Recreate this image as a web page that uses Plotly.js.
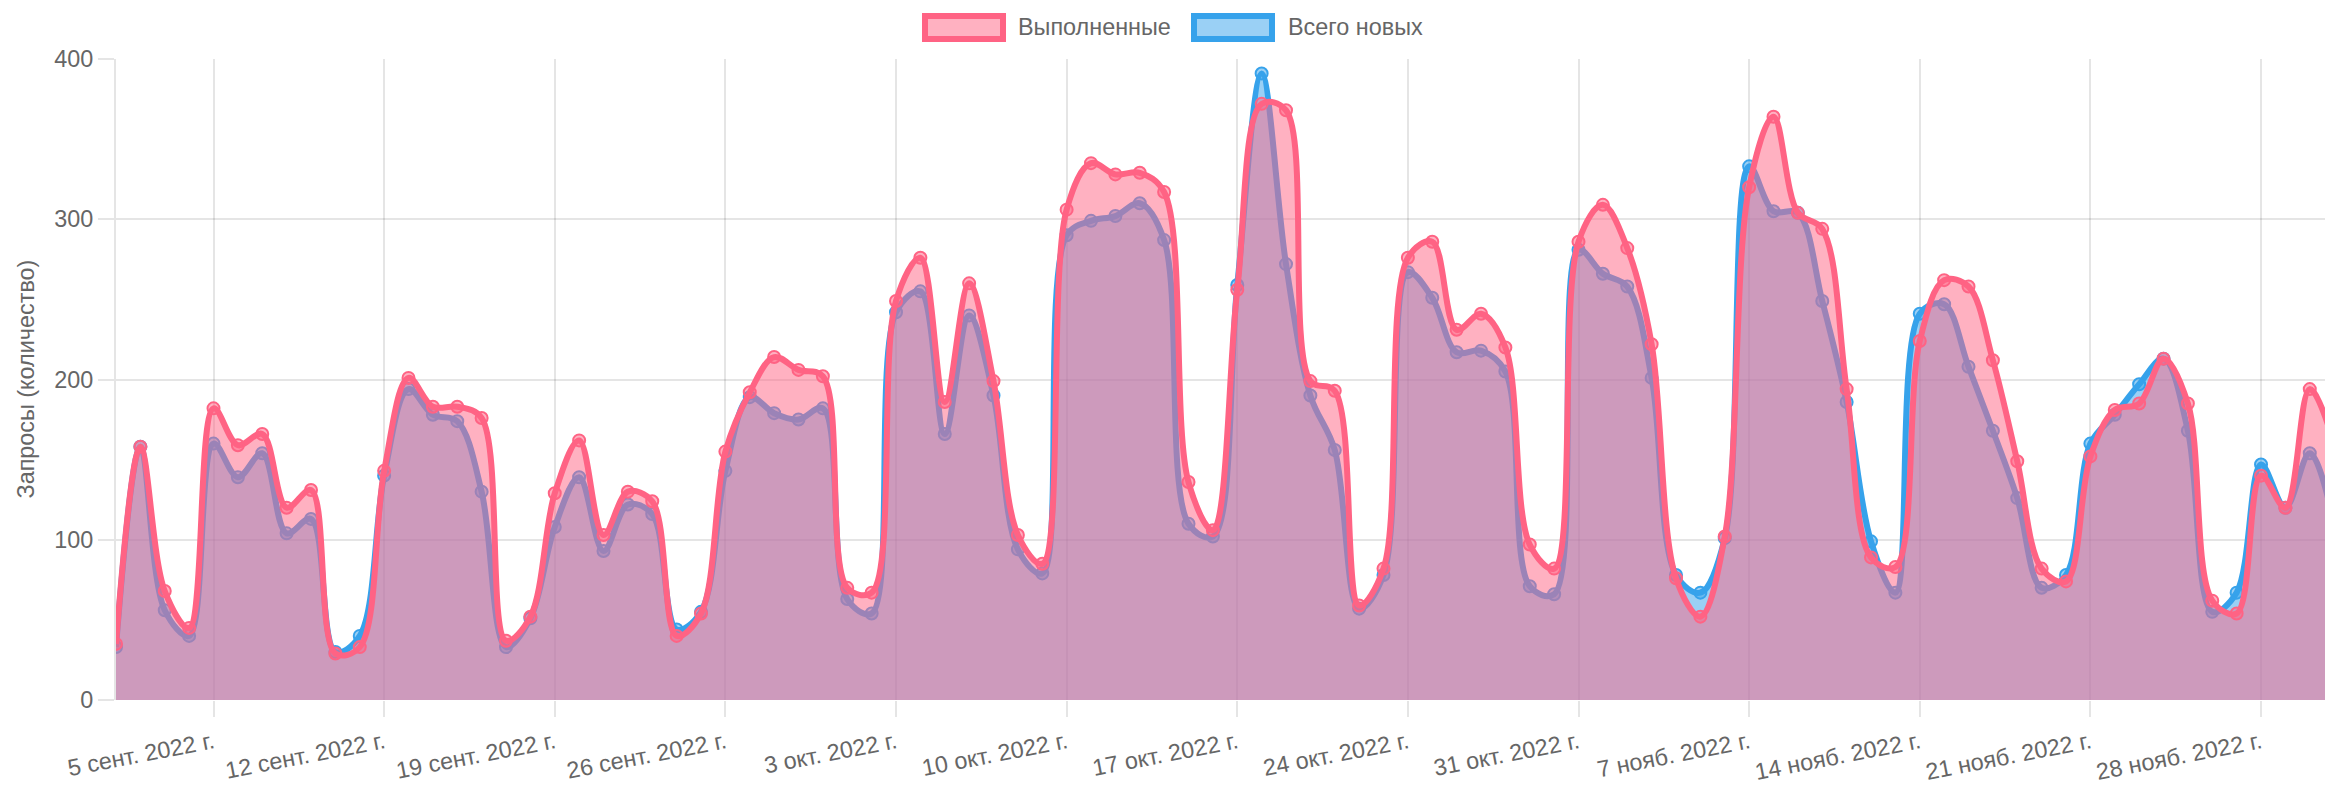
<!DOCTYPE html>
<html>
<head>
<meta charset="utf-8">
<script src="https://cdn.plot.ly/plotly-3.0.1.min.js"></script>
<style>
  html, body { margin: 0; padding: 0; background: #fff; }
  #chart { width: 2325px; height: 785px; }
</style>
</head>
<body>
<div id="chart"></div>
<script>
// ---- data ----
var startDate = '2022-09-01';
var completed = [35,158,68,45,182,159,166,120,131,29,33,143,201,183,183,176,37,52,129,162,103,130,124,40,54,155,192,214,206,202,70,67,249,276,186,260,199,103,85,306,335,328,329,317,136,106,256,372,368,199,193,59,82,276,286,231,241,220,97,82,286,309,282,222,76,52,102,320,364,304,294,194,89,83,224,262,258,212,149,82,74,152,181,185,213,185,62,54,140,120,194,160];
var totalNew  = [33,158,56,40,160,139,154,104,113,30,40,140,194,178,174,130,33,51,108,139,93,122,116,44,55,143,189,179,175,182,63,54,242,255,166,240,190,94,79,290,299,302,310,287,110,102,259,391,272,190,156,57,78,267,251,217,218,205,71,66,281,266,258,201,78,67,101,333,305,304,249,186,99,67,241,247,208,168,126,70,78,160,178,197,213,168,55,67,147,120,154,110];
var tickDates = ['2022-09-05','2022-09-12','2022-09-19','2022-09-26','2022-10-03','2022-10-10','2022-10-17','2022-10-24','2022-10-31','2022-11-07','2022-11-14','2022-11-21','2022-11-28'];
var tickLabels = ['5 сент. 2022 г.','12 сент. 2022 г.','19 сент. 2022 г.','26 сент. 2022 г.','3 окт. 2022 г.','10 окт. 2022 г.','17 окт. 2022 г.','24 окт. 2022 г.','31 окт. 2022 г.','7 нояб. 2022 г.','14 нояб. 2022 г.','21 нояб. 2022 г.','28 нояб. 2022 г.'];
var seriesNames = ['Выполненные', 'Всего новых'];
var yTitle = 'Запросы (количество)';

// ---- dates (one per day) ----
function dayList(start, n) {
  var out = [];
  var t0 = Date.parse(start + 'T00:00:00Z');
  for (var i = 0; i < n; i++) {
    var d = new Date(t0 + i * 86400000);
    out.push(d.toISOString().slice(0, 10));
  }
  return out;
}
var dates = dayList(startDate, completed.length);

// ---- style ----
var RED = 'rgb(255, 99, 132)', RED_F = 'rgba(255, 99, 132, 0.5)';
var BLUE = 'rgb(54, 162, 235)', BLUE_F = 'rgba(54, 162, 235, 0.5)';
var GRID = 'rgba(0,0,0,0.1)';
var FONT = '"Liberation Sans", Arial, Helvetica, sans-serif';
var FS = 23.4;
var W = 2325, H = 785, L = 116, R = 0, T = 59, B = 85;
function px(x) { return (x - L) / (W - L - R); }
function py(y) { return (H - B - y) / (H - T - B); }

function lineTrace(name, vals, col, fill) {
  return {
    type: 'scatter', mode: 'lines+markers', name: name,
    x: dates, y: vals,
    line: { color: col, width: 6, shape: 'spline', smoothing: 1 },
    marker: { size: 12, color: fill, line: { color: col, width: 2 } },
    fill: 'tozeroy', fillcolor: fill,
    hoverinfo: 'x+y'
  };
}

var traces = [
  lineTrace(seriesNames[1], totalNew, BLUE, BLUE_F),
  lineTrace(seriesNames[0], completed, RED, RED_F)
];

var legendItems = [
  { name: seriesNames[0], col: RED, fill: RED_F, box: [925, 1003], text: 1016 },
  { name: seriesNames[1], col: BLUE, fill: BLUE_F, box: [1194, 1272], text: 1286 }
];
var shapes = [], annotations = [];
legendItems.forEach(function (it) {
  shapes.push({ type: 'rect', xref: 'paper', yref: 'paper',
    x0: px(it.box[0]), x1: px(it.box[1]), y0: py(39), y1: py(16),
    fillcolor: it.fill, line: { color: it.col, width: 6 } });
  annotations.push({ xref: 'paper', yref: 'paper', x: px(it.text), y: py(27.5),
    xanchor: 'left', yanchor: 'middle', showarrow: false, text: it.name,
    font: { family: FONT, size: FS, color: '#666' } });
});
annotations.push({ xref: 'paper', yref: 'paper', x: px(25), y: 0.5,
  xanchor: 'center', yanchor: 'middle', showarrow: false, textangle: -90,
  text: yTitle, font: { family: FONT, size: FS, color: '#666' } });

var layout = {
  width: W, height: H,
  margin: { l: L, r: R, t: T, b: B, pad: 0 },
  paper_bgcolor: '#fff', plot_bgcolor: '#fff',
  showlegend: false,
  font: { family: FONT, size: FS, color: '#666' },
  xaxis: {
    type: 'date',
    range: ['2022-09-01 00:00', '2022-11-30 15:00'],
    tickmode: 'array', tickvals: tickDates, ticktext: tickLabels,
    tickangle: -11, ticklabelstandoff: 3,
    ticks: 'outside', ticklen: 16, tickwidth: 2, tickcolor: GRID,
    showgrid: true, gridcolor: GRID, gridwidth: 2,
    zeroline: false, showline: false,
    tickfont: { family: FONT, size: FS, color: '#666' },
    fixedrange: true
  },
  yaxis: {
    range: [0, 400],
    tickmode: 'array', tickvals: [0, 100, 200, 300, 400],
    ticks: 'outside', ticklen: 16, tickwidth: 2, tickcolor: GRID,
    showgrid: true, gridcolor: GRID, gridwidth: 2,
    zeroline: false, showline: true, linecolor: GRID, linewidth: 2,
    tickfont: { family: FONT, size: FS, color: '#666' },
    fixedrange: true
  },
  shapes: shapes,
  annotations: annotations
};

Plotly.newPlot('chart', traces, layout, { displayModeBar: false, staticPlot: true });
</script>
</body>
</html>
